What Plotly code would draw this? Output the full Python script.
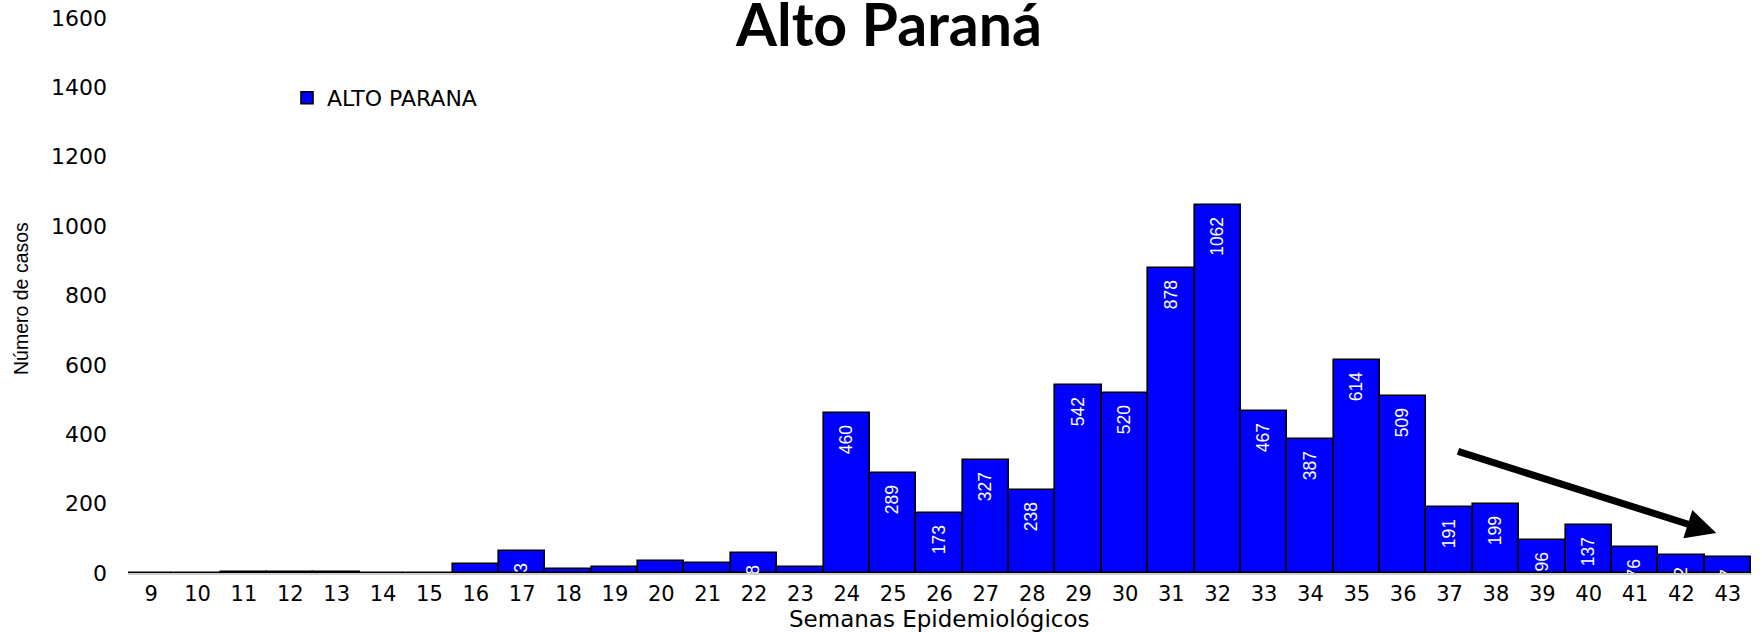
import plotly.graph_objects as go

weeks = list(range(9, 44))
cases = [0, 0, 4, 3, 3, 0, 0, 26, 63, 11, 17, 36, 29, 58, 17,
         460, 289, 173, 327, 238, 542, 520, 878, 1062, 467, 387, 614, 509,
         191, 199, 96, 137, 76, 52, 47]
series_name = "ALTO PARANA"
chart_title = "Alto Paraná"
x_title = "Semanas Epidemiológicos"
y_title = "Número de casos"
y_ticks = [0, 200, 400, 600, 800, 1000, 1200, 1400, 1600]

# labels of very small bars fall entirely below the axis (clipped) in the original
labels = [f"{v}\u00a0\u00a0" if v >= 40 else "" for v in cases]

fig = go.Figure()
fig.add_trace(go.Bar(
    x=weeks, y=cases, name=series_name,
    marker=dict(color="#0000FF", line=dict(color="#000000", width=1.6)),
    text=labels, textposition="inside", insidetextanchor="end",
    textangle=-90, constraintext="none", cliponaxis=True,
    textfont=dict(family="Liberation Sans, Arial, sans-serif", size=17.5, color="#FFFFFF"),
    showlegend=True, hoverinfo="x+y",
))

fig.update_layout(
    width=1762, height=632,
    margin=dict(l=128, r=11, t=18, b=59),
    paper_bgcolor="white", plot_bgcolor="white",
    bargap=0,
    title=dict(text=chart_title, x=889 / 1762, xanchor="center",
               y=1 - 25 / 632, yanchor="middle", yref="container",
               font=dict(family="Lato, sans-serif", size=59, color="#000000", weight="bold")),
    showlegend=True,
    legend=dict(x=(287 - 128) / 1623, xanchor="left", y=(573 - 98) / 555, yanchor="middle",
                bgcolor="rgba(0,0,0,0)", borderwidth=0,
                font=dict(family="DejaVu Sans, sans-serif", size=22, color="#000000")),
    xaxis=dict(range=[8.5, 43.5], tickmode="array", tickvals=weeks,
               ticktext=[str(w) for w in weeks], ticks="", showgrid=False,
               showline=True, linecolor="#CFCFCF", linewidth=1.5, zeroline=False,
               automargin=False,
               tickfont=dict(family="DejaVu Sans, sans-serif", size=21, color="#000000"),
               ticklabelstandoff=1),
    yaxis=dict(range=[0, 1600], tickmode="array", tickvals=y_ticks, ticks="",
               showgrid=False, showline=False, zeroline=False, automargin=False,
               tickfont=dict(family="DejaVu Sans, sans-serif", size=22, color="#000000"),
               ticklabelstandoff=20),
    annotations=[
        dict(text=x_title, xref="paper", yref="paper", x=0.5, y=(573 - 619) / 555,
             xanchor="center", yanchor="middle", showarrow=False,
             font=dict(family="DejaVu Sans, sans-serif", size=23, color="#000000")),
        dict(text=y_title, xref="paper", yref="paper", x=(21 - 128) / 1623, y=(573 - 298) / 555,
             xanchor="center", yanchor="middle", showarrow=False, textangle=-90,
             font=dict(family="Liberation Sans, Arial, sans-serif", size=19.5, color="#000000")),
        dict(x=42.75, y=115, ax=37.15, ay=352, xref="x", yref="y", axref="x", ayref="y",
             text="", showarrow=True, arrowhead=2, arrowsize=0.85, arrowwidth=7,
             arrowcolor="#000000"),
    ],
)

fig.write_html("out.html", config={"displayModeBar": False},
               post_script="document.body.style.margin='0px';")
